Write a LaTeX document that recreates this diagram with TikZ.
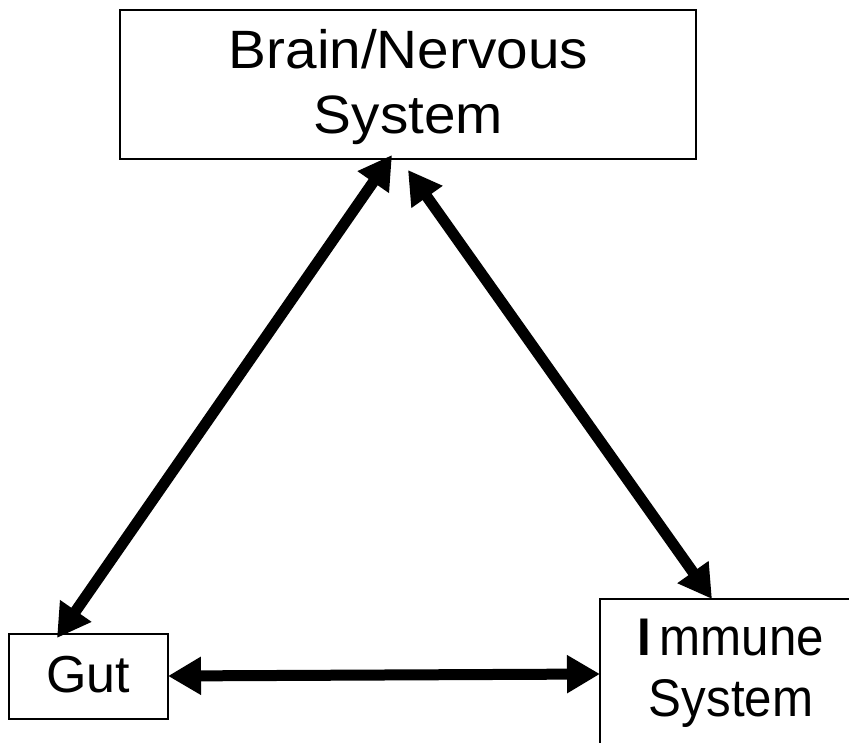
\documentclass[tikz,border=0pt]{standalone}
\usepackage{fontspec}
\setmainfont{Liberation Sans}
\newfontfamily\widefont[FakeStretch=1.05]{Liberation Sans}
\newfontfamily\narrowfont[FakeStretch=0.93]{Liberation Sans}
\usetikzlibrary{arrows.meta}
\begin{document}
\begin{tikzpicture}[x=1pt,y=-1pt,
  box/.style={draw=black, line width=1.6pt, rectangle, inner sep=0pt},
  lbl/.style={align=center, inner sep=0pt, anchor=north},
  link/.style={line width=11pt, {Triangle[length=33pt,width=36pt]}-{Triangle[length=33pt,width=36pt]}}
]
\useasboundingbox (0,0) rectangle (849,743);
\clip (0,0) rectangle (849,743);
\fill[white] (0,0) rectangle (849,743);
% boxes
\node[box, minimum width=576pt, minimum height=149pt] (brain) at (408,84.5) {};
\node[box, minimum width=159pt, minimum height=85pt] (gut) at (88.5,676.5) {};
\node[box, minimum width=270pt, minimum height=171pt] (immune) at (735,684.5) {};
% labels
\node[lbl, font={\widefont\fontsize{54}{65}\selectfont}] (brainT) at (408.5,29) {Brain/Nervous\\System};
\node[lbl, font={\fontsize{52}{60}\selectfont}] (gutT) at (88,656) {Gut};
\node[lbl, font={\narrowfont\fontsize{53}{61}\selectfont}] (immuneT) at (731,619) {{\bfseries I}\kern8pt mmune\\System};
% connector ends
\coordinate (bL) at (392,155);
\coordinate (gT) at (57,638);
\coordinate (bR) at (408,170);
\coordinate (iT) at (712,599);
\coordinate (gR) at (168,676);
\coordinate (iL) at (600,674);
% connectors
\draw[link] (gT) -- (bL);
\draw[link] (bR) -- (iT);
\draw[link] (gR) -- (iL);
\end{tikzpicture}
\end{document}
